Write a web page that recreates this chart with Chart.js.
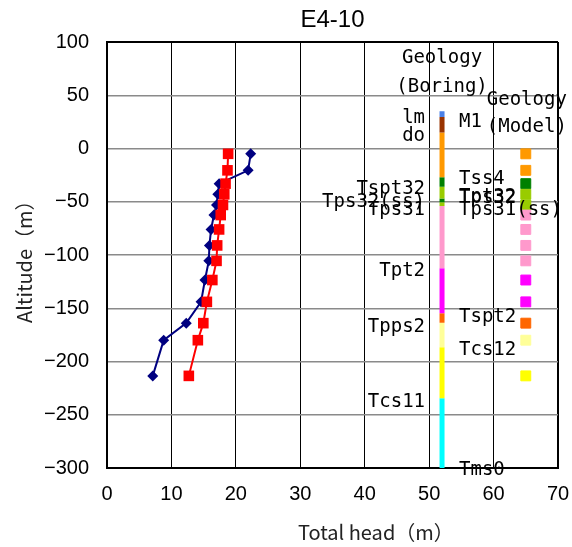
<!DOCTYPE html>
<html>
<head>
<meta charset="utf-8">
<script src="https://cdn.jsdelivr.net/npm/chart.js@4.4.1/dist/chart.umd.min.js"></script>
<style>
  html, body { margin: 0; padding: 0; background: #fff; }
  #wrap { width: 572px; height: 547px; }
</style>
</head>
<body>
<div id="wrap"><canvas id="c" width="572" height="547"></canvas></div>
<script>
// ---- chart text ----
const chartTitle = 'E4-10';
const xTitle = 'Total head（m）';
const yTitle = 'Altitude（m）';

// ---- head profiles (altitude of each screen, m) ----
const obsAltitude  = [-5, -20.5, -33, -43, -53, -62.5, -76, -91, -105.5, -123.5, -144, -164, -180, -213.5];
const observedHead = [22.3, 21.9, 17.4, 17.2, 17.0, 16.6, 16.15, 15.9, 15.8, 15.2, 14.6, 12.3, 8.8, 7.1];
const computedHead = [18.8, 18.7, 18.4, 18.2, 18.0, 17.65, 17.4, 17.1, 17.0, 16.35, 15.5, 14.95, 14.1, 12.7];

// ---- geology from the boring log: layer tops (m) and colours ----
const boringTops   = [35, 29.5, 15, -27, -36, -47, -50.5, -54, -112.5, -154.7, -163.5, -186.7, -234.6];
const boringBase   = -300;
const boringColors = ['#4a80e6', '#993300', '#ff9900', '#008000', '#99cc00', '#008000', '#99cc00',
                      '#ff99cc', '#ff00ff', '#ff6600', '#ffff99', '#ffff00', '#00ffff'];

// ---- geology of the model at each screen depth ----
const modelColors = ['#ff9900', '#ff9900', '#008000', '#99cc00', '#99cc00', '#ff99cc', '#ff99cc',
                     '#ff99cc', '#ff99cc', '#ff00ff', '#ff00ff', '#ff6600', '#ffff99', '#ffff00'];

// ---- unit names beside the boring column ----
const leftUnits     = ['lm', 'do', 'Tspt32', 'Tps32(ss)', 'Tps31', 'Tpt2', 'Tpps2', 'Tcs11'];
const leftUnitAlt   = [28.6, 12, -38, -50, -58, -115, -168, -238];
const rightUnits    = ['M1', 'Tss4', 'Tpt32', 'Tps32', 'Tps31(ss)', 'Tspt2', 'Tcs12', 'Tms0'];
const rightUnitAlt  = [25, -29, -45.5, -47, -58, -158.5, -189, -302];

// ---- column headings ----
const boringHeading = ['Geology', '(Boring)'];
const boringHeadAlt = [84.7, 58];
const modelHeading  = ['Geology', '(Model)'];
const modelHeadAlt  = [45.5, 20.5];

// x location of the two geology columns (total-head axis units)
const boringX = 52;
const modelX = 65;

const minus = v => String(v).replace('-', '\u2212');

const datasets = [
  {
    label: 'Computed head',
    data: computedHead.map((x, i) => ({ x, y: obsAltitude[i] })),
    showLine: true,
    borderColor: '#ff0000',
    backgroundColor: '#ff0000',
    borderWidth: 2,
    pointStyle: 'rect',
    pointRadius: 7.5,
    pointBorderWidth: 0
  },
  {
    label: 'Observed head',
    data: observedHead.map((x, i) => ({ x, y: obsAltitude[i] })),
    showLine: true,
    borderColor: '#000080',
    backgroundColor: '#000080',
    borderWidth: 2,
    pointStyle: 'rectRot',
    pointRadius: 5.5,
    pointBorderWidth: 0
  },
  {
    label: 'Geology (Model)',
    data: obsAltitude.map(y => ({ x: modelX, y })),
    showLine: false,
    pointStyle: 'rect',
    pointRadius: 7,
    backgroundColor: modelColors,
    borderColor: modelColors,
    borderWidth: 1
  }
];

boringColors.forEach((c, i) => {
  const bottom = i + 1 < boringTops.length ? boringTops[i + 1] : boringBase;
  datasets.push({
    label: 'Geology (Boring) ' + (i + 1),
    data: [{ x: boringX, y: boringTops[i] }, { x: boringX, y: bottom }],
    showLine: true,
    borderColor: c,
    borderWidth: 5,
    borderCapStyle: 'butt',
    pointRadius: 0
  });
});

// headings, unit names, title and axis captions
const textLayer = {
  id: 'textLayer',
  afterDatasetsDraw(chart) {
    const { ctx, scales: { x, y } } = chart;
    ctx.save();
    ctx.fillStyle = '#000';

    ctx.font = '19px "DejaVu Sans Mono"';
    ctx.textBaseline = 'middle';
    const bx = x.getPixelForValue(boringX);
    const mx = x.getPixelForValue(modelX);

    ctx.textAlign = 'right';
    leftUnits.forEach((t, i) => ctx.fillText(t, bx - 17, y.getPixelForValue(leftUnitAlt[i])));
    ctx.textAlign = 'left';
    rightUnits.forEach((t, i) => ctx.fillText(t, bx + 17, y.getPixelForValue(rightUnitAlt[i])));

    ctx.textAlign = 'center';
    boringHeading.forEach((t, i) => ctx.fillText(t, bx, y.getPixelForValue(boringHeadAlt[i])));
    modelHeading.forEach((t, i) => ctx.fillText(t, mx + 1, y.getPixelForValue(modelHeadAlt[i])));

    // chart title
    ctx.font = '24px "Liberation Sans"';
    ctx.textBaseline = 'alphabetic';
    ctx.textAlign = 'center';
    ctx.fillText(chartTitle, (chart.chartArea.left + chart.chartArea.right) / 2, 26.5);

    // axis captions
    ctx.font = '20px "Noto Sans CJK JP"';
    ctx.fillStyle = '#222';
    ctx.textAlign = 'left';
    ctx.fillText(xTitle, 298, 540);
    ctx.save();
    ctx.translate(32, 323);
    ctx.rotate(-Math.PI / 2);
    ctx.fillText(yTitle, 0, 0);
    ctx.restore();

    ctx.restore();
  }
};

new Chart(document.getElementById('c'), {
  type: 'scatter',
  data: { datasets },
  options: {
    responsive: false,
    animation: false,
    events: [],
    layout: { padding: { top: 42, right: 14, left: 0, bottom: 0 } },
    plugins: {
      legend: { display: false },
      tooltip: { enabled: false },
      title: { display: false }
    },
    scales: {
      x: {
        type: 'linear',
        min: 0,
        max: 70,
        afterFit: s => { s.height = 79; s.paddingLeft = 0; s.paddingRight = 0; },
        ticks: {
          stepSize: 10,
          padding: 14,
          color: '#000',
          font: { family: 'Liberation Sans', size: 20 },
          callback: v => minus(v)
        },
        grid: {
          drawTicks: false,
          color: '#000',
          lineWidth: c => (c.tick && c.tick.value === 70 ? 2 : 1)
        },
        border: { display: true, color: '#000', width: 2 }
      },
      y: {
        type: 'linear',
        min: -300,
        max: 100,
        afterFit: s => { s.width = 107; s.paddingTop = 0; s.paddingBottom = 0; },
        ticks: {
          stepSize: 50,
          padding: 18,
          color: '#000',
          font: { family: 'Liberation Sans', size: 20 },
          callback: v => minus(v)
        },
        grid: {
          drawTicks: false,
          color: c => (c.tick && c.tick.value === 100 ? '#000' : '#8a8a8a'),
          lineWidth: c => (c.tick && c.tick.value === 100 ? 2 : 1.5)
        },
        border: { display: true, color: '#000', width: 2 }
      }
    }
  },
  plugins: [textLayer]
});
</script>
</body>
</html>
